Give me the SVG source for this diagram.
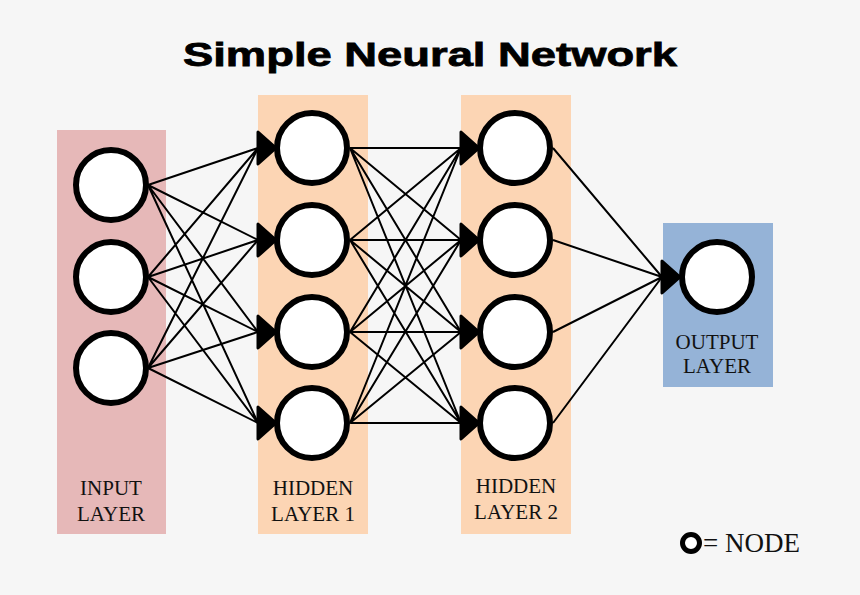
<svg xmlns="http://www.w3.org/2000/svg" width="860" height="595" viewBox="0 0 860 595">
<style>
.node{fill:#fff;stroke:#000;stroke-width:6}
.lnk{stroke:#000;stroke-width:2;fill:none}
.lbl{font-family:"Liberation Serif","DejaVu Serif",serif;font-size:21px;fill:#111;text-anchor:middle}
.arr{fill:#000;stroke:#000;stroke-width:3;stroke-linejoin:round}
</style>
<defs>
<path id="ah" class="arr" d="M-18,-16 L0,0 L-18,16 Z"/>
</defs>
<rect width="860" height="595" fill="#f6f6f6"/>
<text x="430" y="66" font-family="Liberation Sans,Arial,sans-serif" font-weight="bold" font-size="34" text-anchor="middle" textLength="494" lengthAdjust="spacingAndGlyphs" fill="#000" stroke="#000" stroke-width="0.8">Simple Neural Network</text>

<g id="layer-input">
<rect x="57" y="130" width="109" height="404" fill="#e6b8b8"/>
<text class="lbl" x="111" y="495">INPUT</text>
<text class="lbl" x="111" y="521">LAYER</text>
</g>
<g id="layer-hidden1">
<rect x="258" y="95" width="110" height="439" fill="#fcd5b4"/>
<text class="lbl" x="313" y="495">HIDDEN</text>
<text class="lbl" x="313" y="521">LAYER 1</text>
</g>
<g id="layer-hidden2">
<rect x="461" y="95" width="110" height="439" fill="#fcd5b4"/>
<text class="lbl" x="516" y="493">HIDDEN</text>
<text class="lbl" x="516" y="519">LAYER 2</text>
</g>
<g id="layer-output">
<rect x="663" y="223" width="110" height="164" fill="#95b3d7"/>
<text class="lbl" x="717" y="349">OUTPUT</text>
<text class="lbl" x="717" y="373">LAYER</text>
</g>

<g id="connectors">
<!-- input to hidden1 -->
<path class="lnk" d="M148,185 L258,148 M148,185 L258,240 M148,185 L258,332 M148,185 L258,423
M148,277 L258,148 M148,277 L258,240 M148,277 L258,332 M148,277 L258,423
M148,368 L258,148 M148,368 L258,240 M148,368 L258,332 M148,368 L258,423"/>
<!-- hidden1 to hidden2 -->
<path class="lnk" d="M350,148 L461,148 M350,148 L461,240 M350,148 L461,332 M350,148 L461,423
M350,240 L461,148 M350,240 L461,240 M350,240 L461,332 M350,240 L461,423
M350,332 L461,148 M350,332 L461,240 M350,332 L461,332 M350,332 L461,423
M350,423 L461,148 M350,423 L461,240 M350,423 L461,332 M350,423 L461,423"/>
<!-- hidden2 to output -->
<path class="lnk" d="M553,148 L662,277 M553,240 L662,277 M553,332 L662,277 M553,423 L662,277"/>
<use href="#ah" x="276" y="148"/>
<use href="#ah" x="276" y="240"/>
<use href="#ah" x="276" y="332"/>
<use href="#ah" x="276" y="423"/>
<use href="#ah" x="479" y="148"/>
<use href="#ah" x="479" y="240"/>
<use href="#ah" x="479" y="332"/>
<use href="#ah" x="479" y="423"/>
<use href="#ah" x="680" y="277"/>
</g>

<g id="in1"><circle class="node" cx="111" cy="185" r="35"/></g>
<g id="in2"><circle class="node" cx="111" cy="277" r="35"/></g>
<g id="in3"><circle class="node" cx="111" cy="368" r="35"/></g>
<g id="h1a"><circle class="node" cx="312" cy="148" r="35"/></g>
<g id="h1b"><circle class="node" cx="312" cy="240" r="35"/></g>
<g id="h1c"><circle class="node" cx="312" cy="332" r="35"/></g>
<g id="h1d"><circle class="node" cx="312" cy="423" r="35"/></g>
<g id="h2a"><circle class="node" cx="515" cy="148" r="35"/></g>
<g id="h2b"><circle class="node" cx="515" cy="240" r="35"/></g>
<g id="h2c"><circle class="node" cx="515" cy="332" r="35"/></g>
<g id="h2d"><circle class="node" cx="515" cy="423" r="35"/></g>
<g id="out1"><circle class="node" cx="717" cy="277" r="35"/></g>

<g id="legend">
<circle cx="691" cy="543" r="8.5" fill="#fff" stroke="#000" stroke-width="5"/>
<text x="703" y="552" font-family="Liberation Serif,DejaVu Serif,serif" font-size="27" fill="#111">= NODE</text>
</g>
</svg>
